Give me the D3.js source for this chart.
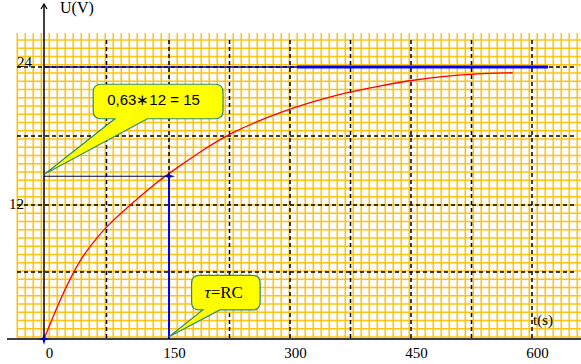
<!DOCTYPE html>
<html>
<head>
<meta charset="utf-8">
<script src="https://cdn.jsdelivr.net/npm/d3@7"></script>
<style>
body { margin: 0; background: #fff; }
svg { display: block; }
.serif { font-family: "Liberation Serif", "Times New Roman", serif; }
</style>
</head>
<body>
<svg width="581" height="364"></svg>
<script>
// charging curve (t in s, U in V)
var times = [0, 19, 34, 47, 64, 73, 100, 136, 149, 188, 226, 288, 329, 371, 408, 445, 490, 527, 576];
var volts = [0, 3.5, 5.8, 7.5, 9.1, 9.9, 11.8, 14.0, 14.7, 16.6, 18.3, 20.1, 21.0, 21.8, 22.3, 22.8, 23.2, 23.4, 23.5];

var xTicks = [0, 150, 300, 450, 600];
var yTicks = [12, 24];
var xDash = [75, 150, 225, 300, 375, 450, 525, 600];
var yDash = [6, 12, 18, 24];

var tau = 150, tauU = 14.5, Umax = 24;

var svg = d3.select("svg"),
	width = +svg.attr("width"),
	height = +svg.attr("height");

// the original drawing is not quite linear, so a piecewise scale
var x = d3.scaleLinear().domain([0, 150, 600]).range([44, 169, 532]);
var y = d3.scaleLinear().domain([0, 12, 24]).range([339, 205, 67]);

// squared paper background
var grid = svg.append("g").attr("stroke", "#fbc416").attr("stroke-width", 1.6);
grid.selectAll(".gv")
	.data(d3.range(17.3, width, 8))
	.enter().append("line")
	.attr("x1", function (d) { return d; }).attr("x2", function (d) { return d; })
	.attr("y1", 33).attr("y2", 338);
grid.selectAll(".gh")
	.data(d3.range(40, 338, 8.25))
	.enter().append("line")
	.attr("x1", 17).attr("x2", width)
	.attr("y1", function (d) { return d; }).attr("y2", function (d) { return d; });

// dashed guide lines
var dash = svg.append("g").attr("stroke", "#000").attr("stroke-width", 1.5).attr("stroke-dasharray", "4,3");
dash.selectAll(".dv")
	.data(xDash)
	.enter().append("line")
	.attr("x1", function (d) { return x(d); }).attr("x2", function (d) { return x(d); })
	.attr("y1", 40).attr("y2", y(0));
dash.selectAll(".dh")
	.data(yDash)
	.enter().append("line")
	.attr("x1", 17).attr("x2", 574)
	.attr("y1", function (d) { return y(d); }).attr("y2", function (d) { return y(d); });

// asymptote at 24 V
svg.append("line")
	.attr("x1", x(0)).attr("x2", x(309))
	.attr("y1", y(Umax)).attr("y2", y(Umax))
	.attr("stroke", "#0000a0").attr("stroke-width", 1.5);
svg.append("line")
	.attr("x1", x(309)).attr("x2", x(620))
	.attr("y1", y(Umax)).attr("y2", y(Umax))
	.attr("stroke", "#0000ff").attr("stroke-width", 3);

// tau construction
svg.append("line")
	.attr("x1", x(0)).attr("x2", x(tau))
	.attr("y1", y(tauU)).attr("y2", y(tauU))
	.attr("stroke", "#000040").attr("stroke-width", 1.2);
svg.append("line")
	.attr("x1", x(tau)).attr("x2", x(tau))
	.attr("y1", y(tauU)).attr("y2", y(0))
	.attr("stroke", "#0000ff").attr("stroke-width", 2);

// curve
var pts = times.map(function (t, i) { return [t, volts[i]]; });
var line = d3.line()
	.x(function (d) { return x(d[0]); })
	.y(function (d) { return y(d[1]); })
	.curve(d3.curveBasis);
svg.append("path")
	.datum(pts)
	.attr("d", line)
	.attr("fill", "none")
	.attr("stroke", "#ff0000")
	.attr("stroke-width", 1.3);

// axes lines
svg.append("line").attr("x1", 7).attr("x2", width).attr("y1", y(0)).attr("y2", y(0))
	.attr("stroke", "#000").attr("stroke-width", 1.5);
svg.append("line").attr("x1", x(0)).attr("x2", x(0)).attr("y1", 5).attr("y2", 341)
	.attr("stroke", "#000").attr("stroke-width", 1.5);
svg.append("path").attr("d", "M" + (x(0) - 3) + ",9L" + x(0) + ",4L" + (x(0) + 3) + ",9")
	.attr("fill", "none").attr("stroke", "#000").attr("stroke-width", 1.2);

// tick labels
var xAxis = svg.append("g")
	.attr("class", "serif")
	.attr("transform", "translate(0," + y(0) + ")")
	.call(d3.axisBottom(x).tickValues(xTicks).tickSize(0).tickPadding(8.5));
xAxis.select(".domain").remove();
xAxis.selectAll(".tick text")
	.attr("font-size", 15).attr("font-family", "Liberation Serif, serif")
	.attr("fill", "#000").attr("dx", 5);

var yAxis = svg.append("g")
	.attr("class", "serif")
	.attr("transform", "translate(33,0)")
	.call(d3.axisLeft(y).tickValues(yTicks).tickSize(0));
yAxis.select(".domain").remove();
yAxis.selectAll(".tick text")
	.attr("font-size", 15).attr("font-family", "Liberation Serif, serif")
	.attr("fill", "#000")
	.attr("x", function (d) { return d === 24 ? -1 : -9; })
	.attr("dy", function (d) { return d === 24 ? -1 : 3; });

svg.append("text").attr("class", "serif").attr("x", 60).attr("y", 13)
	.attr("font-size", 16).text("U(V)");
svg.append("text").attr("class", "serif").attr("x", 533).attr("y", 325)
	.attr("font-size", 15).text("t(s)");

// star markers
function star(r) {
	var p = [];
	for (var i = 0; i < 8; i++) {
		var a = i * Math.PI / 4, rr = i % 2 ? r * 0.3 : r;
		p.push([rr * Math.cos(a), rr * Math.sin(a)]);
	}
	return "M" + p.join("L") + "Z";
}
svg.selectAll(".star")
	.data([[tau, tauU], [0, 0]])
	.enter().append("path")
	.attr("d", star(6))
	.attr("transform", function (d) { return "translate(" + x(d[0]) + "," + y(d[1]) + ")"; })
	.attr("fill", "#0000c0");

// callouts (box corners, tail base and tip in data units)
function callout(c) {
	var x0 = x(c.t0), x1 = x(c.t1), y0 = y(c.u0), y1 = y(c.u1), r = 8;
	return "M" + (x0 + r) + "," + y0 +
		"H" + (x1 - r) + "Q" + x1 + "," + y0 + " " + x1 + "," + (y0 + r) +
		"V" + (y1 - r) + "Q" + x1 + "," + y1 + " " + (x1 - r) + "," + y1 +
		"H" + x(c.b1) + "L" + x(c.tipT) + "," + y(c.tipU) + "L" + x(c.b0) + "," + y1 +
		"H" + (x0 + r) + "Q" + x0 + "," + y1 + " " + x0 + "," + (y1 - r) +
		"V" + (y0 + r) + "Q" + x0 + "," + y0 + " " + (x0 + r) + "," + y0 + "Z";
}
var c1 = { t0: 59, t1: 217, u0: 22.5, u1: 19.5, b0: 85, b1: 124, tipT: 1, tipU: 14.7 };
var c2 = { t0: 178, t1: 263, u0: 5.7, u1: 2.6, b0: 192, b1: 213, tipT: 150, tipU: 0.2 };

svg.selectAll(".callout")
	.data([c1, c2])
	.enter().append("path")
	.attr("d", callout)
	.attr("fill", "#ffff00")
	.attr("stroke", "#2e8b6a")
	.attr("stroke-width", 1.2);

svg.append("text")
	.attr("x", x(c1.t0) + 14).attr("y", y(c1.u1) - 14)
	.attr("font-family", "Liberation Sans, Arial, sans-serif").attr("font-size", 15)
	.text("0,63\u221712 = 15");

var t2 = svg.append("text").attr("class", "serif")
	.attr("x", x(c2.t0) + 13).attr("y", y(c2.u1) - 12)
	.attr("font-size", 17);
t2.append("tspan").attr("font-style", "italic").text("\u03c4");
t2.append("tspan").text("=RC");
</script>
</body>
</html>
